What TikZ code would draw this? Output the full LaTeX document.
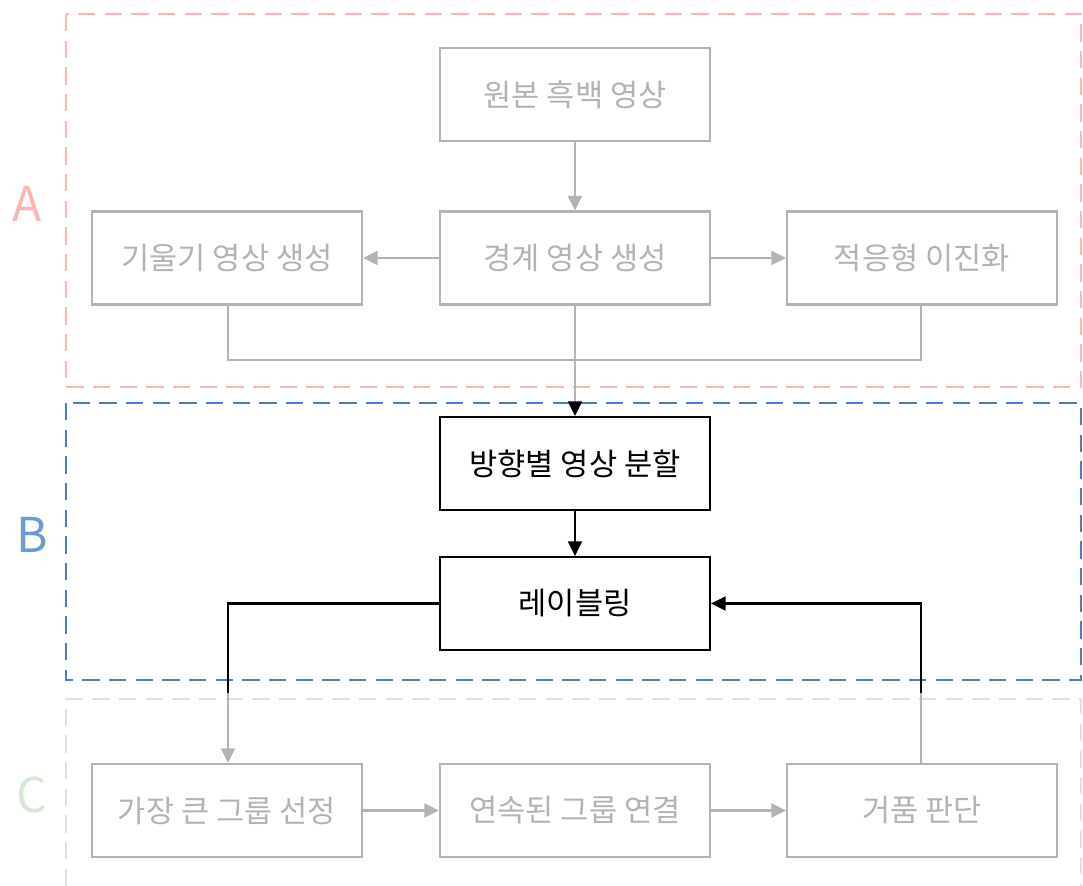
\documentclass[tikz,border=0pt]{standalone}
\usepackage{fontspec}
\setmainfont{Noto Sans CJK KR}
\usetikzlibrary{arrows.meta}
\definecolor{boxgray}{HTML}{B3B3B3}
\definecolor{apink}{HTML}{FFB3B3}
\definecolor{bblue}{HTML}{4A7BD0}
\definecolor{blabel}{HTML}{6A9BD1}
\definecolor{cgreen}{HTML}{D5E8D4}
\tikzset{
  graybox/.style={draw=boxgray, line width=1.6pt, text=boxgray, minimum width=202.5pt, minimum height=69.75pt, inner sep=0pt, font=\fontsize{23}{27}\selectfont},
  blackbox/.style={graybox, draw=black, text=black},
  region/.style={line width=1.5pt, dash pattern=on 13pt off 7pt},
  grayline/.style={draw=boxgray, line width=1.6pt},
  blackline/.style={draw=black, line width=1.6pt},
  tip/.style={-{Triangle[length=11pt,width=10.5pt]}},
  grouplabel/.style={font=\fontsize{36}{40}\selectfont, inner sep=0pt}
}
\begin{document}
\begin{tikzpicture}[x=0.75pt,y=-0.75pt]
\useasboundingbox (0,0) rectangle (1083,886);
% regions
\draw[region, draw=apink] (66,14) rectangle (1081,387);
\draw[region, draw=bblue] (66,403) rectangle (1081,680);
\draw[region, draw=cgreen] (66,886) -- (66,699) -- (1081,699) -- (1081,886);
\node[grouplabel, text=apink] (la) at (27,204) {A};
\node[grouplabel, text=blabel] (lb) at (32,535) {B};
\node[grouplabel, text=cgreen] (lc) at (32,795) {C};
% boxes
\node[graybox] (src) at (575,94.5) {원본 흑백 영상};
\node[graybox] (edge) at (575,258) {경계 영상 생성};
\node[graybox] (grad) at (227,258) {기울기 영상 생성};
\node[graybox] (bin) at (922,258) {적응형 이진화};
\node[blackbox] (split) at (575,463.5) {방향별 영상 분할};
\node[blackbox] (label) at (575,603.5) {레이블링};
\node[graybox] (big) at (227,810.5) {가장 큰 그룹 선정};
\node[graybox] (conn) at (575,810.5) {연속된 그룹 연결};
\node[graybox] (bub) at (922,810.5) {거품 판단};
% coordinates
\coordinate (jl) at (228,360);
\coordinate (jr) at (921,360);
\coordinate (ll) at (228,603.5);
\coordinate (lm) at (228,693);
\coordinate (rr) at (921,603.5);
\coordinate (rm) at (921,693);
% connectors
\draw[grayline, tip] (src) -- (edge);
\draw[grayline, tip] (edge) -- (grad);
\draw[grayline, tip] (edge) -- (bin);
\draw[grayline] (grad.south -| jl) -- (jl) -- (jr) -- (bin.south -| jr);
\draw[grayline, -{Triangle[length=11pt,width=10.5pt,color=black]}] (edge) -- (split);
\draw[blackline, tip] (split) -- (label);
\draw[blackline] (label.west) -- (ll) -- (lm);
\draw[grayline, tip] (lm) -- (big.north -| lm);
\draw[grayline] (bub.north -| rm) -- (rm);
\draw[blackline, tip] (rm) -- (rr) -- (label.east);
\draw[grayline, tip] (big) -- (conn);
\draw[grayline, tip] (conn) -- (bub);
\end{tikzpicture}
\end{document}
